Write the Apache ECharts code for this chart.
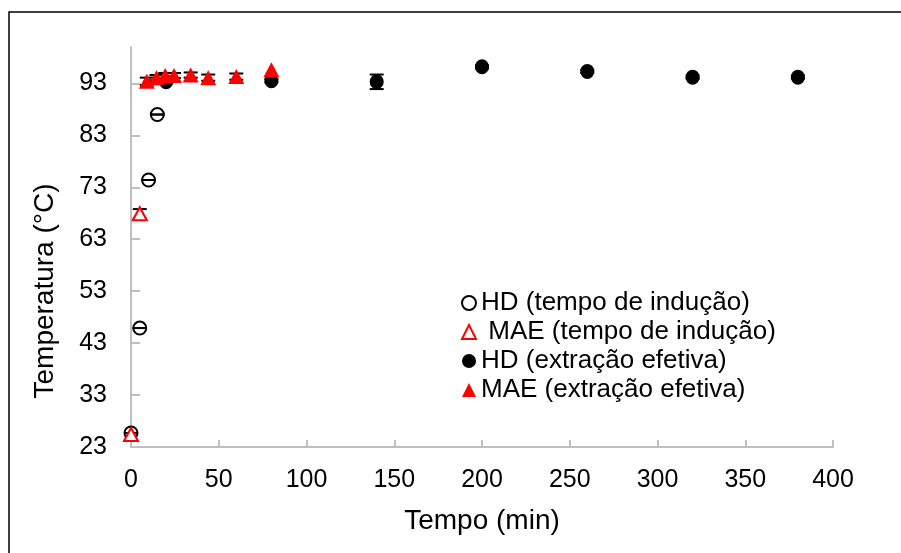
<!DOCTYPE html>
<html>
<head>
<meta charset="utf-8">
<script src="https://cdn.jsdelivr.net/npm/echarts@6/dist/echarts.min.js"></script>
<style>
  html, body { margin: 0; padding: 0; background: #fff; }
  #chart { width: 901px; height: 553px; }
</style>
</head>
<body>
<div id="chart"></div>
<script>
// dados
const timeHDInd = [0, 5, 10, 15]
const tempHDInd = [25.7, 45.9, 74.4, 87.0]
const errHDInd = [0, 0, 0, 0]

const timeMAEInd = [0, 5]
const tempMAEInd = [25.4, 67.9]
const errMAEInd = [0, 0.9]

const timeHDEf = [20, 80, 140, 200, 260, 320, 380]
const tempHDEf = [93.3, 93.5, 93.3, 96.2, 95.3, 94.2, 94.2]
const errHDEf = [0.3, 0.3, 1.4, 0.3, 0.3, 0.3, 0.3]

const timeMAEEf = [9, 14.5, 19.5, 24.5, 34, 44, 60, 80]
const tempMAEEf = [93.4, 94.1, 94.5, 94.5, 94.6, 94.1, 94.3, 95.6]
const errMAEEf = [0.7, 0.5, 0.5, 0.5, 0.5, 0.6, 0.6, 0]

const yTicks = [23, 33, 43, 53, 63, 73, 83, 93]

const names = ['HD (tempo de indução)', ' MAE (tempo de indução)', 'HD (extração efetiva)', 'MAE (extração efetiva)']

const font = 'Liberation Sans, Arial, sans-serif'
const axisGray = '#bfbfbf'

function pairs(xs, ys) {
  return xs.map((x, i) => [x, ys[i]])
}
function triples(xs, ys, es) {
  return xs.map((x, i) => [x, ys[i], es[i]])
}

// barras de erro (só onde aparecem no original)
const errData = [].concat(
  triples(timeMAEInd, tempMAEInd, errMAEInd).slice(1),
  triples(timeMAEEf, tempMAEEf, errMAEEf).slice(0, 7),
  triples(timeHDEf, tempHDEf, errHDEf),
  triples(timeHDInd, tempHDInd, errHDInd)
)

const myChart = echarts.init(document.getElementById('chart'))

const option = {
  backgroundColor: '#fff',
  animation: false,
  grid: { left: 131, right: 68, top: 47, bottom: 106 },
  graphic: [
    {
      type: 'rect',
      shape: { x: 9, y: 12, width: 1000, height: 1000 },
      style: { fill: 'none', stroke: '#000', lineWidth: 1.5 },
      silent: true
    },
    {
      type: 'text',
      x: 45,
      y: 291,
      rotation: Math.PI / 2,
      style: {
        text: 'Temperatura (°C)',
        font: '28px ' + font,
        fill: '#000',
        align: 'center',
        verticalAlign: 'middle'
      }
    }
  ],
  legend: {
    orient: 'vertical',
    left: 456,
    top: 285,
    itemWidth: 14,
    itemHeight: 14,
    itemGap: 3,
    data: names,
    textStyle: { fontSize: 26, lineHeight: 24, color: '#000', fontFamily: font }
  },
  xAxis: {
    type: 'value',
    min: 0,
    max: 400,
    interval: 50,
    name: 'Tempo (min)',
    nameLocation: 'middle',
    nameGap: 60,
    nameTextStyle: { fontSize: 28, color: '#000', fontFamily: font },
    axisLine: { show: true, lineStyle: { color: axisGray, width: 2 } },
    axisTick: { show: true, inside: true, length: 7, lineStyle: { color: axisGray, width: 2 } },
    axisLabel: { fontSize: 25, color: '#000', margin: 21, fontFamily: font },
    splitLine: { show: false }
  },
  yAxis: {
    type: 'value',
    min: 23,
    max: 100,
    axisLine: { show: true, lineStyle: { color: axisGray, width: 2 } },
    axisTick: { show: true, inside: true, length: 9, customValues: yTicks, lineStyle: { color: axisGray, width: 2 } },
    axisLabel: { fontSize: 25, color: '#000', margin: 24, customValues: yTicks, fontFamily: font },
    splitLine: { show: false }
  },
  series: [
    {
      type: 'custom',
      z: 1,
      silent: true,
      data: errData,
      renderItem: function (params, api) {
        const x = api.value(0)
        const y = api.value(1)
        const e = api.value(2)
        const top = api.coord([x, y + e])
        const bot = api.coord([x, y - e])
        const hw = 7
        const style = { stroke: '#000', lineWidth: 2 }
        return {
          type: 'group',
          children: [
            { type: 'line', shape: { x1: top[0], y1: top[1], x2: bot[0], y2: bot[1] }, style: style },
            { type: 'line', shape: { x1: top[0] - hw, y1: top[1], x2: top[0] + hw, y2: top[1] }, style: style },
            { type: 'line', shape: { x1: bot[0] - hw, y1: bot[1], x2: bot[0] + hw, y2: bot[1] }, style: style }
          ]
        }
      }
    },
    {
      name: names[0],
      type: 'scatter',
      z: 2,
      symbol: 'circle',
      symbolSize: 13,
      itemStyle: { color: 'rgba(255,255,255,0)', borderColor: '#000', borderWidth: 2, opacity: 1 },
      data: pairs(timeHDInd, tempHDInd)
    },
    {
      name: names[1],
      type: 'scatter',
      z: 3,
      symbol: 'triangle',
      symbolSize: [14, 13],
      itemStyle: { color: '#fff', borderColor: '#ff0000', borderWidth: 2, opacity: 1 },
      data: pairs(timeMAEInd, tempMAEInd)
    },
    {
      name: names[2],
      type: 'scatter',
      z: 4,
      symbol: 'circle',
      symbolSize: [14, 15],
      itemStyle: { color: '#000', opacity: 1 },
      data: pairs(timeHDEf, tempHDEf)
    },
    {
      name: names[3],
      type: 'scatter',
      z: 5,
      symbol: 'triangle',
      symbolSize: [16, 15],
      itemStyle: { color: '#ff0000', opacity: 1 },
      data: pairs(timeMAEEf, tempMAEEf)
    }
  ]
}

myChart.setOption(option)
window.addEventListener('resize', () => {
  myChart && myChart.resize()
})
</script>
</body>
</html>
